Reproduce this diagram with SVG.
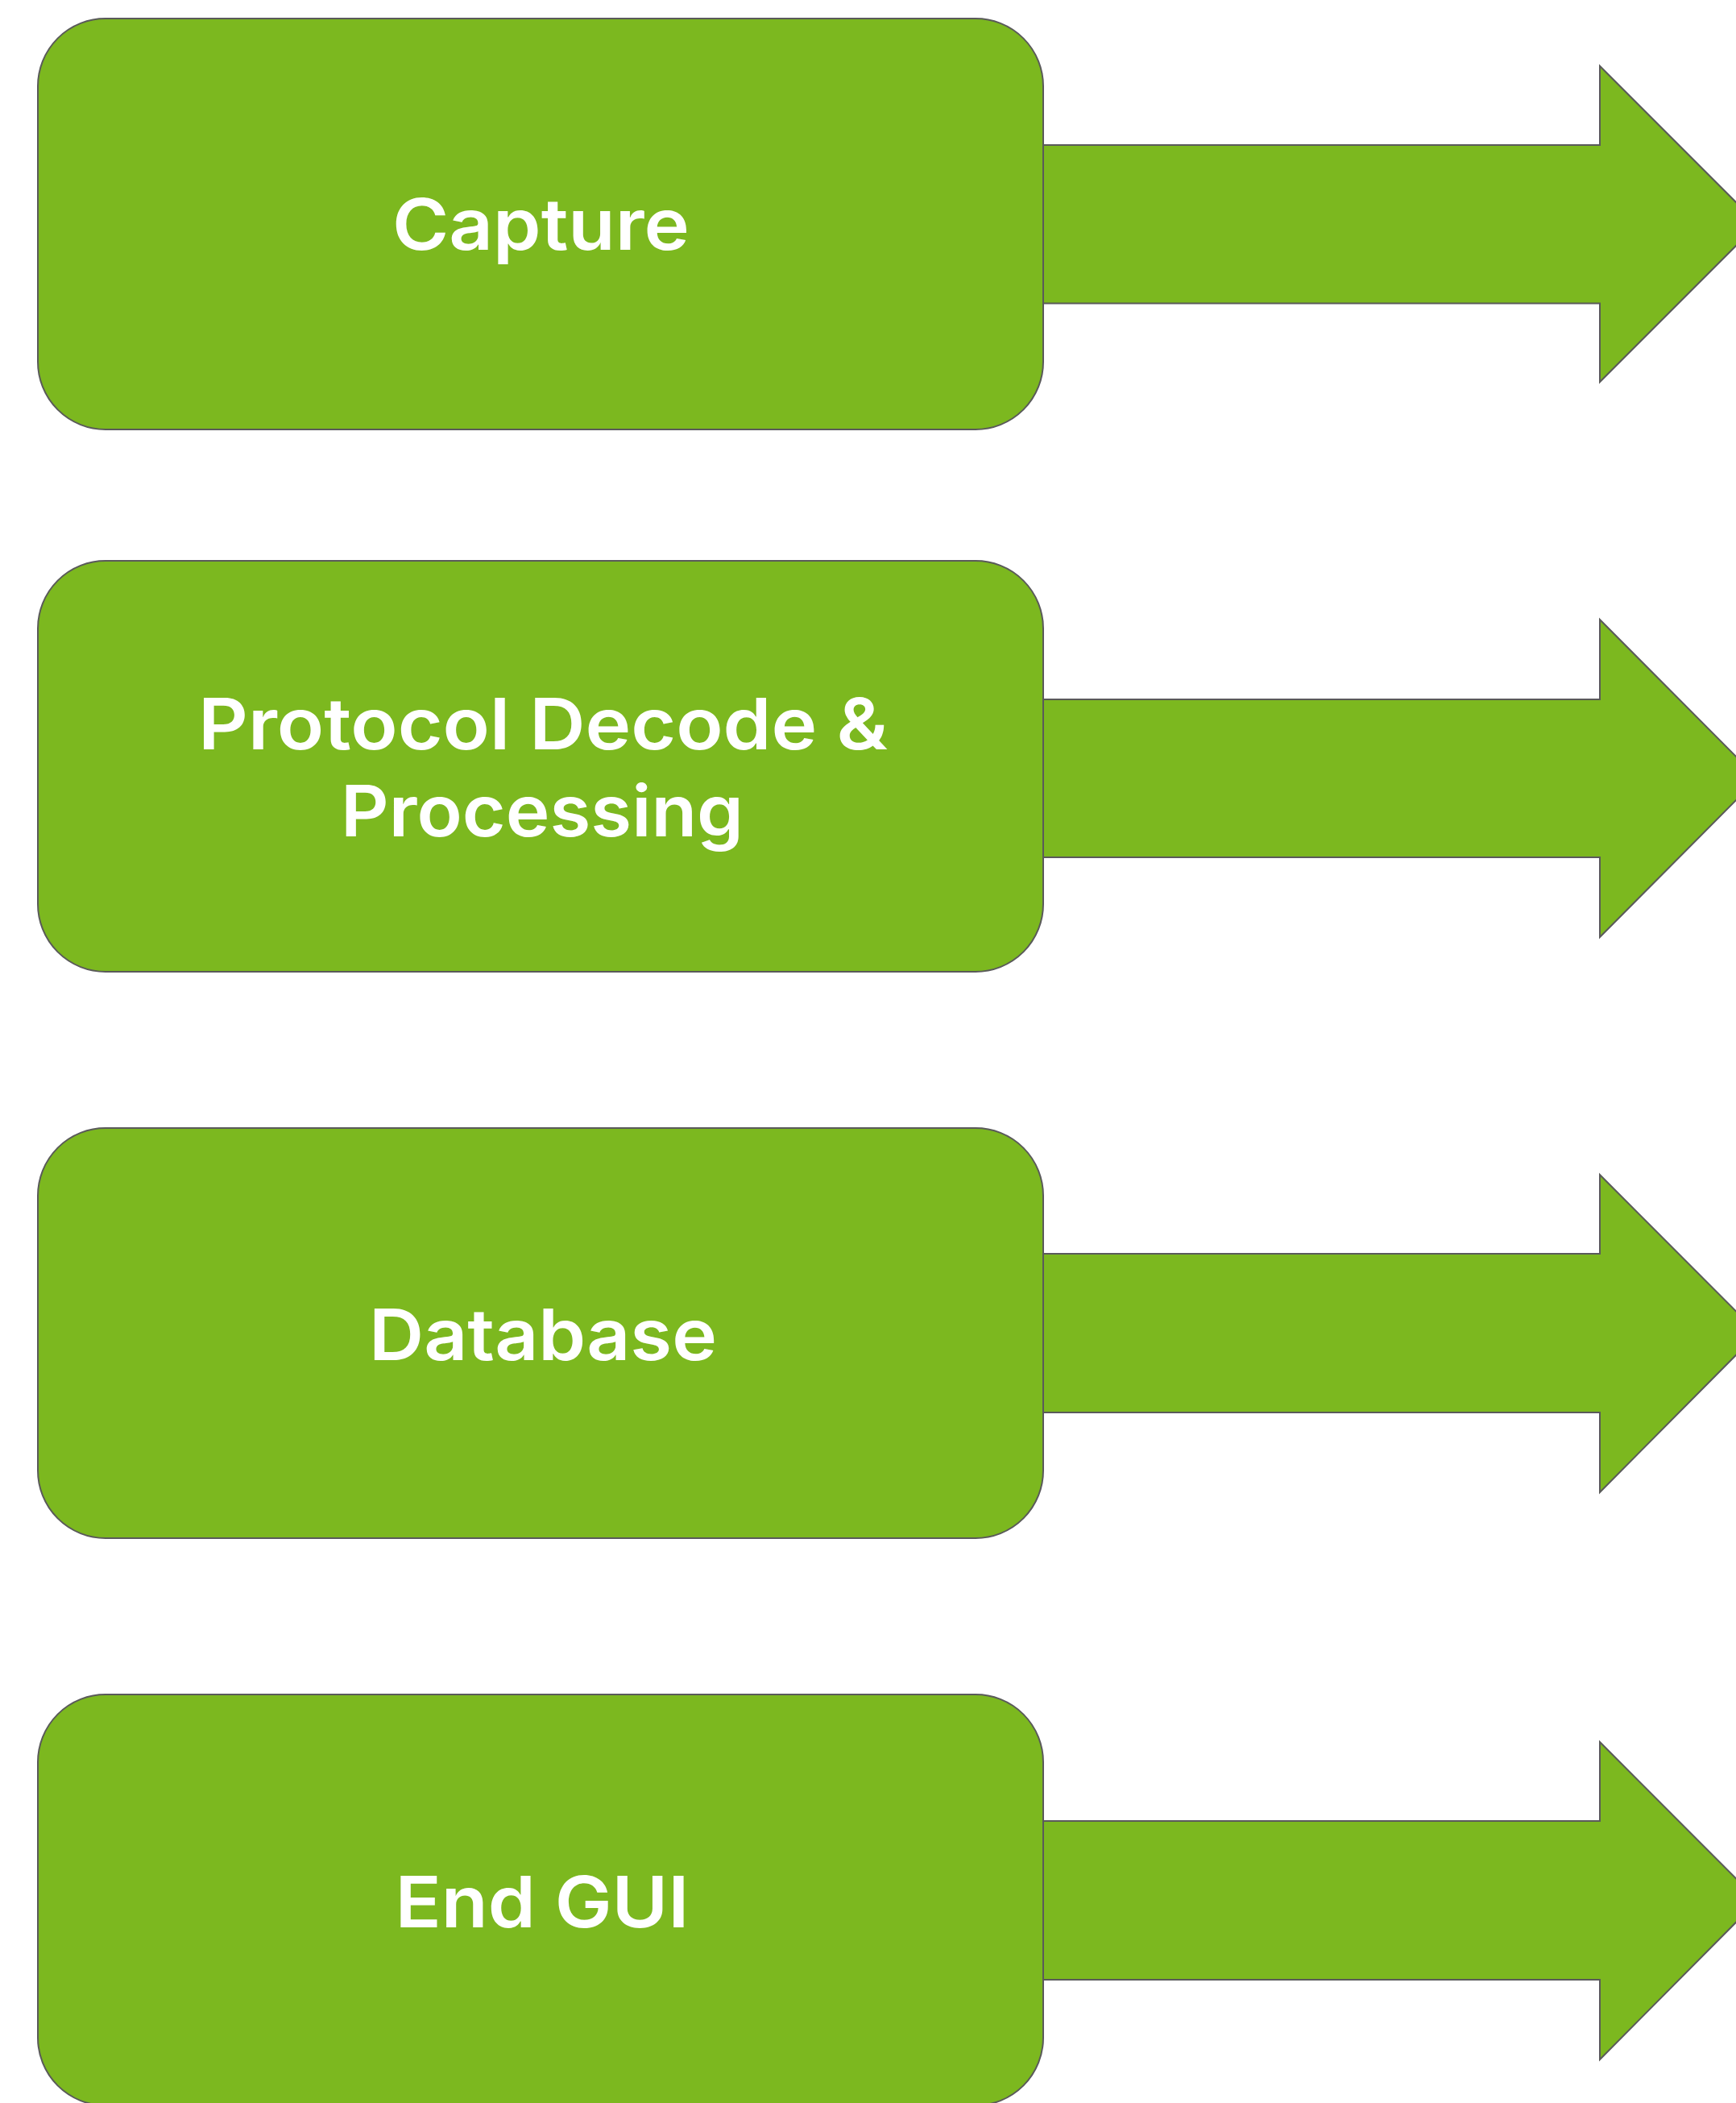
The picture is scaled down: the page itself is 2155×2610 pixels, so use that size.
<svg xmlns="http://www.w3.org/2000/svg" width="2155" height="2610" viewBox="0 0 2155 2610">
<style>
.box{fill:#7cb81f;stroke:#5a5a5a;stroke-width:2}
.arr{fill:#7cb81f;stroke:#5a5a5a;stroke-width:2;stroke-linejoin:miter}
.lbl{fill:#ffffff;font-family:Inter,"Open Sans","Liberation Sans",sans-serif;font-weight:600;font-size:88px;text-anchor:middle}
</style>
<rect width="2155" height="2610" fill="#ffffff"/>
<g id="connectors">
<polygon class="arr" points="1295,180 1986,180 1986,82 2182,278 1986,474 1986,376.5 1295,376.5"/>
<polygon class="arr" points="1295,868 1986,868 1986,769 2182,966 1986,1163 1986,1064 1295,1064"/>
<polygon class="arr" points="1295,1556 1986,1556 1986,1458 2182,1654.5 1986,1852 1986,1753 1295,1753"/>
<polygon class="arr" points="1295,2260 1986,2260 1986,2162 2182,2358.5 1986,2556 1986,2457 1295,2457"/>
</g>
<g id="node-capture">
<rect class="box" x="47" y="23" width="1248" height="510" rx="84" ry="84"/>
<text class="lbl" x="671.5" y="310" textLength="369" lengthAdjust="spacingAndGlyphs">Capture</text>
</g>
<g id="node-protocol">
<rect class="box" x="47" y="696" width="1248" height="510" rx="84" ry="84"/>
<text class="lbl" x="674" y="930" textLength="856" lengthAdjust="spacingAndGlyphs">Protocol Decode &amp;</text>
<text class="lbl" x="673" y="1038" textLength="500" lengthAdjust="spacingAndGlyphs">Processing</text>
</g>
<g id="node-database">
<rect class="box" x="47" y="1400" width="1248" height="509" rx="84" ry="84"/>
<text class="lbl" x="674" y="1688" textLength="432" lengthAdjust="spacingAndGlyphs">Database</text>
</g>
<g id="node-endgui">
<rect class="box" x="47" y="2103" width="1248" height="510" rx="84" ry="84"/>
<text class="lbl" x="673" y="2392" textLength="365" lengthAdjust="spacingAndGlyphs">End GUI</text>
</g>
</svg>
